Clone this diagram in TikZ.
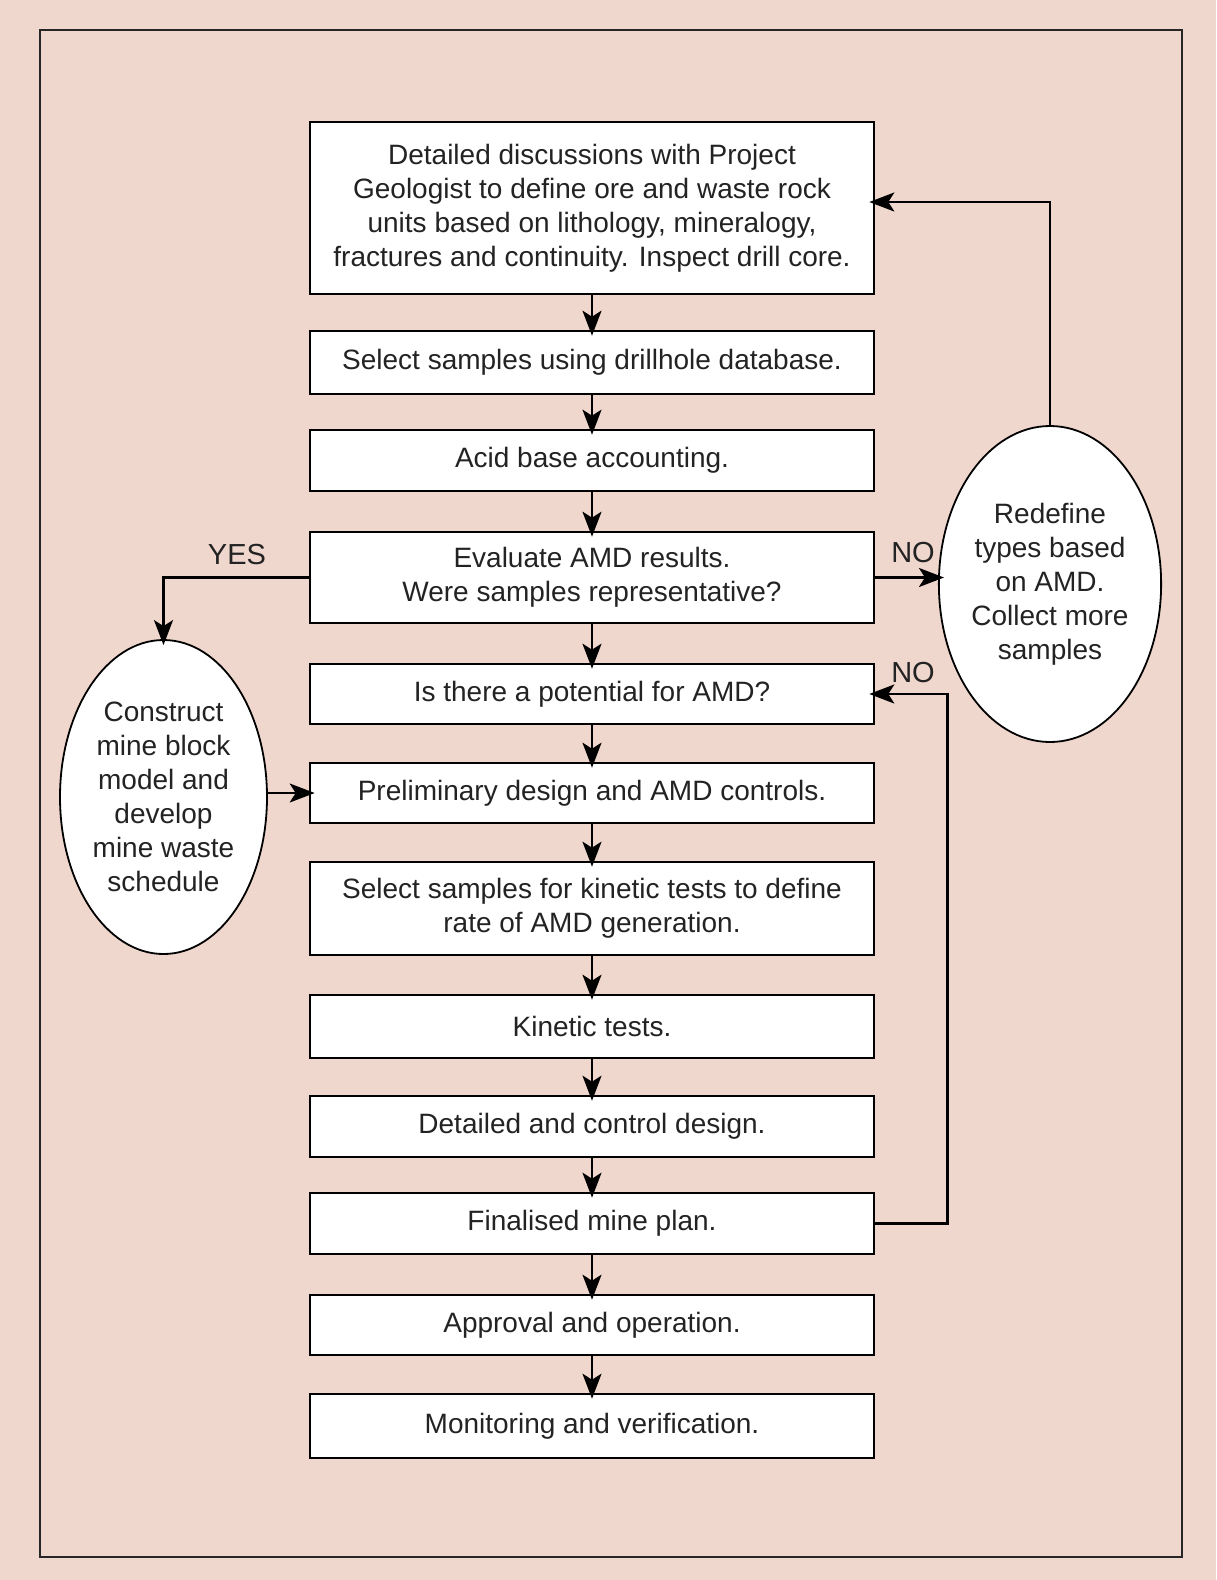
\documentclass[tikz,border=0pt]{standalone}
\usepackage{fontspec}
\setmainfont{Liberation Sans}
\usetikzlibrary{arrows.meta,shapes.geometric}
\definecolor{bgpink}{RGB}{240,215,205}
\definecolor{txt}{RGB}{35,35,35}
\begin{document}
\begin{tikzpicture}[x=1pt,y=-1pt,
  every node/.style={text=txt,font=\fontsize{28}{34}\selectfont},
  box/.style={draw=black,fill=white,line width=2.6pt,minimum width=564pt,inner sep=0pt,align=center},
  oval/.style={ellipse,draw=black,fill=white,line width=1.8pt,inner sep=0pt,align=center},
  conn/.style={line width=2.4pt,shorten >=-6pt,-{Stealth[length=25pt,width=19pt,inset=6pt]}},
  lbl/.style={font=\fontsize{29}{34}\selectfont}]
\useasboundingbox (0,0) rectangle (1216,1580);
\fill[bgpink] (0,0) rectangle (1216,1580);
\draw[line width=2.8pt,black!85] (40,30) rectangle (1182,1557);

\node[box,minimum height=172pt] (b1) at (592,208) {Detailed discussions with Project\\Geologist to define ore and waste rock\\units based on lithology, mineralogy,\\fractures and continuity. Inspect drill core.};
\node[box,minimum height=63pt] (b2) at (592,362.5) {Select samples using drillhole database.};
\node[box,minimum height=61pt] (b3) at (592,460.5) {Acid base accounting.};
\node[box,minimum height=91pt] (b4) at (592,577.5) {Evaluate AMD results.\\Were samples representative?};
\node[box,minimum height=60pt] (b5) at (592,694) {Is there a potential for AMD?};
\node[box,minimum height=60pt] (b6) at (592,793) {Preliminary design and AMD controls.};
\node[box,minimum height=93pt] (b7) at (592,908.5) {Select samples for kinetic tests to define\\rate of AMD generation.};
\node[box,minimum height=63pt] (b8) at (592,1026.5) {Kinetic tests.};
\node[box,minimum height=61pt] (b9) at (592,1126.5) {Detailed and control design.};
\node[box,minimum height=61pt] (b10) at (592,1223.5) {Finalised mine plan.};
\node[box,minimum height=60pt] (b11) at (592,1325) {Approval and operation.};
\node[box,minimum height=64pt] (b12) at (592,1426) {Monitoring and verification.};

\node[oval,minimum width=204pt,minimum height=316pt] (rell) at (1050,584) {Redefine\\types based\\on AMD.\\Collect more\\samples};
\node[oval,minimum width=207pt,minimum height=314pt] (lell) at (163.5,797) {Construct\\mine block\\model and\\develop\\mine waste\\schedule};

\foreach \a/\b in {b1/b2,b2/b3,b3/b4,b4/b5,b5/b6,b6/b7,b7/b8,b8/b9,b9/b10,b10/b11,b11/b12}
  \draw[conn] (\a.south) -- (\b.north);

\draw[conn] (rell.north) |- ([yshift=6pt]b1.east);
\draw[conn] (b4.west) -| (lell.north);
\draw[conn] (b4.east) -- (b4.east -| rell.west);
\draw[conn] (b10.east) -- ++(72,0) |- (b5.east);
\draw[conn] (b6.west -| lell.east) -- (b6.west);

\node[lbl] (yes) at (237,555) {YES};
\node[lbl] (no1) at (913,553) {NO};
\node[lbl] (no2) at (913,673) {NO};
\end{tikzpicture}
\end{document}
